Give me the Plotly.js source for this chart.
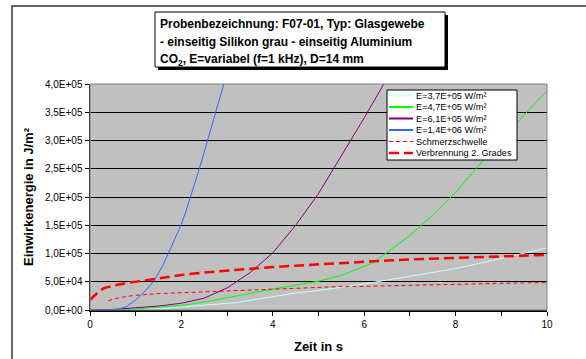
<!DOCTYPE html>
<html><head><meta charset="utf-8">
<script src="https://cdn.plot.ly/plotly-3.0.1.min.js"></script>
<style>html,body{margin:0;padding:0;background:#fff}#chart{width:586px;height:359px}</style>
</head><body><div id="chart"></div><script>
// ---- data ----
const seriesNames = ['E=3,7E+05 W/m²','E=4,7E+05 W/m²','E=6,1E+05 W/m²','E=1,4E+06 W/m²','Schmerzschwelle','Verbrennung 2. Grades'];

const xCyan = [0,0.5,1.0,1.5,2.0,2.5,3.0,3.2,3.5,4.0,4.5,5.0,5.5,6.0,6.5,7.0,7.5,8.0,8.5,9.0,9.5,10];
const yCyan = [0,0,1000,2000,5000,8000,11000,13000,17000,24000,30000,34500,40000,46000,53000,59500,66000,73500,82000,91500,101500,110000];

const xGreen = [0,0.5,1.0,1.5,2.0,2.5,3.0,3.5,4.0,4.5,5.0,5.5,6.0,6.2,6.5,7.0,7.5,8.0,8.5,9.0,9.5,10];
const yGreen = [0,0,2000,5000,8000,14000,22000,29000,37000,44000,51000,61000,77000,84000,102000,132000,168000,208000,255000,300000,345000,388000];

const xPurple = [0,0.5,1.0,1.5,2.0,2.5,3.0,3.5,4.0,4.5,5.0,5.5,6.0,6.5];
const yPurple = [0,1000,4000,7000,12000,21000,39000,66000,101000,150000,206000,272000,340000,410000];

const xBlue = [0,0.4,0.6,0.8,1.0,1.2,1.4,1.6,1.8,2.0,2.1,2.2,2.4,2.6,2.8,3.0];
const yBlue = [0,0,1000,6000,18000,33000,51000,80000,116000,152000,175000,200000,252000,308000,364000,420000];

const xSchmerz = [0.4,0.6,0.8,1.0,1.5,2.0,2.5,3.0,3.5,4.0,4.5,5.0,5.5,6.0,6.5,7.0,7.5,8.0,8.5,9.0,9.5,10];
const ySchmerz = [16500,21000,24000,26000,29000,30500,32500,34500,36000,37500,39000,40000,41500,42000,43000,44000,45000,46000,46500,47000,48000,48500];

const xVerb = [0,0.1,0.2,0.3,0.5,0.75,1.0,1.5,2.0,2.5,3.0,3.5,4.0,4.5,5.0,5.5,6.0,6.5,7.0,7.5,8.0,8.5,9.0,9.5,10];
const yVerb = [18000,26000,33000,38500,43000,47000,50000,56000,62000,66500,70000,73500,76000,78500,81000,83500,85500,87500,89500,91000,92000,93500,95000,96500,97500];

const yTickVals = [0,50000,100000,150000,200000,250000,300000,350000,400000];
const yTickText = ['0,0E+00','5,0E+04','1,0E+05','1,5E+05','2,0E+05','2,5E+05','3,0E+05','3,5E+05','4,0E+05'];
const xTickVals = [0,2,4,6,8,10];
const xTickText = ['0','2','4','6','8','10'];
const xMinorVals = [1,3,5,7,9];

const titleLines = ['Probenbezeichnung: F07-01, Typ: Glasgewebe','- einseitig Silikon grau - einseitig Aluminium','CO<sub>2</sub>, E=variabel (f=1 kHz), D=14 mm'];
const yTitle = 'Einwirkenergie in J/m²';
const xTitle = 'Zeit in s';

// ---- styles ----
const FONT = 'Liberation Sans, Arial, sans-serif';
const colors = ['#CCFFFF','#00FF00','#800080','#3366FF','#FF0000','#FF0000'];
const widths = [1,1,1,1,1,2.5];
const dashes = ['solid','solid','solid','solid','4px,3px','10px,5px'];
const xs = [xCyan,xGreen,xPurple,xBlue,xSchmerz,xVerb];
const ys = [yCyan,yGreen,yPurple,yBlue,ySchmerz,yVerb];

const traces = xs.map((x,i)=>({x:x,y:ys[i],type:'scatter',mode:'lines',name:seriesNames[i],
  line:{color:colors[i],width:widths[i],dash:dashes[i]},showlegend:false}));

const L=90, R=39, T=84, B=49, W=586, H=359;
const pw=W-L-R, ph=H-T-B;
const px = p => (p-L)/pw;
const py = p => (H-B-p)/ph;

const shapes = [];
const annotations = [];
// outer chart frame
shapes.push({type:'rect',xref:'paper',yref:'paper',x0:px(12),x1:px(600),y0:py(370),y1:py(6),line:{color:'#333',width:1.5},fillcolor:'rgba(0,0,0,0)'});
// plot border (grey)
shapes.push({type:'rect',xref:'paper',yref:'paper',x0:0,x1:1,y0:0,y1:1,line:{color:'#808080',width:1},layer:'above'});
// title box + shadow
shapes.push({type:'rect',xref:'paper',yref:'paper',x0:px(158),x1:px(448),y0:py(70),y1:py(15),line:{width:0},fillcolor:'#000'});
shapes.push({type:'rect',xref:'paper',yref:'paper',x0:px(155),x1:px(445),y0:py(67),y1:py(12),line:{color:'#000',width:1},fillcolor:'#fff'});
titleLines.forEach((t,i)=>annotations.push({xref:'paper',yref:'paper',x:px(158),y:py(24+i*18),xanchor:'left',yanchor:'middle',
  text:'<b>'+t+'</b>',showarrow:false,font:{family:FONT,size:12,color:'#000'}}));
// y axis title
annotations.push({xref:'paper',yref:'paper',x:px(28),y:py(197),xanchor:'center',yanchor:'middle',textangle:-90,
  text:'<b>'+yTitle+'</b>',showarrow:false,font:{family:FONT,size:13,color:'#000'}});
// legend box
shapes.push({type:'rect',xref:'paper',yref:'paper',x0:px(387),x1:px(517),y0:py(160),y1:py(90),line:{color:'#000',width:1},fillcolor:'#fff',layer:'above'});
seriesNames.forEach((n,i)=>{
  const yy = 95.5+i*11.5;
  shapes.push({type:'line',xref:'paper',yref:'paper',x0:px(389),x1:px(413),y0:py(yy),y1:py(yy),
    line:{color:colors[i],width:i<4?2:widths[i],dash:dashes[i]},layer:'above'});
  annotations.push({xref:'paper',yref:'paper',x:px(414),y:py(yy),xanchor:'left',yanchor:'middle',text:n,showarrow:false,
    font:{family:FONT,size:9.2,color:'#000'}});
});

const layout = {
  width:W,height:H,margin:{l:L,r:R,t:T,b:B},
  paper_bgcolor:'#fff',plot_bgcolor:'#C0C0C0',
  font:{family:FONT,size:10,color:'#000'},
  showlegend:false,
  xaxis:{range:[0,10],tickvals:xTickVals,ticktext:xTickText,showgrid:false,zeroline:false,
    showline:true,linecolor:'#000',linewidth:1.5,ticks:'outside',ticklen:4,tickcolor:'#000',
    minor:{tickvals:xMinorVals,ticks:'outside',ticklen:4,tickcolor:'#000',showgrid:false},
    tickfont:{size:10},title:{text:'<b>'+xTitle+'</b>',font:{size:13},standoff:13}},
  yaxis:{range:[0,400000],tickvals:yTickVals,ticktext:yTickText,showgrid:true,gridcolor:'#000',gridwidth:1,zeroline:false,
    showline:true,linecolor:'#000',linewidth:1.5,ticks:'outside',ticklen:4,tickcolor:'#000',
    tickfont:{size:10}},
  shapes:shapes,annotations:annotations
};
Plotly.newPlot('chart',traces,layout,{staticPlot:true,displayModeBar:false});
</script></body></html>
